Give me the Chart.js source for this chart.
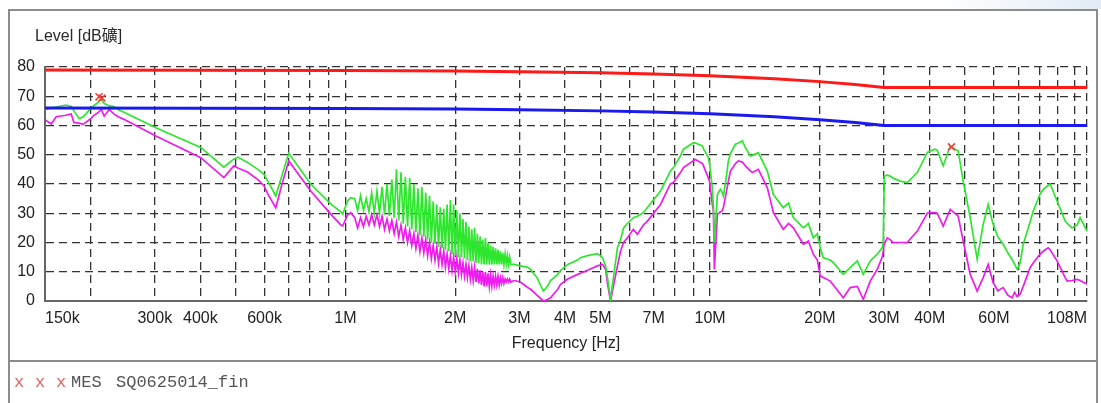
<!DOCTYPE html>
<html>
<head>
<meta charset="utf-8">
<script src="https://cdn.jsdelivr.net/npm/chart.js@4.4.0/dist/chart.umd.min.js"></script>
<style>
  html, body { margin: 0; padding: 0; background: #fff; }
  #wrap { width: 1101px; height: 403px; }
</style>
</head>
<body>
<div id="wrap"><canvas id="emiChart" width="1101" height="403"></canvas></div>
<script>
// frequencies in MHz, levels in dB
const lowFreq = [0.150, 0.156, 0.161, 0.171, 0.177, 0.180, 0.186, 0.191, 0.201, 0.203, 0.210, 0.214, 0.218, 0.225, 0.232, 0.238, 0.247, 0.302, 0.401, 0.464, 0.494, 0.507, 0.540, 0.575, 0.597, 0.616, 0.644, 0.670, 0.699, 0.803, 0.911, 0.971, 0.983, 1.014, 1.034];
const lowPeak = [65.5, 66.0, 66.3, 67.0, 66.5, 65.0, 62.3, 63.0, 66.0, 66.5, 68.0, 69.0, 67.5, 66.7, 66.5, 65.5, 64.5, 59.2, 52.5, 45.8, 48.5, 49.2, 47.3, 45.0, 43.4, 40.5, 35.9, 43.0, 50.5, 40.0, 33.2, 30.5, 29.7, 34.3, 35.3];
const lowAvg = [62.0, 60.5, 63.0, 63.5, 63.9, 61.0, 60.8, 60.4, 62.5, 63.2, 64.5, 65.5, 63.2, 65.5, 63.9, 63.0, 62.1, 56.4, 49.0, 42.2, 46.2, 45.5, 44.0, 41.5, 39.5, 36.0, 31.9, 40.0, 47.9, 37.6, 29.7, 26.0, 25.7, 29.5, 30.2];

// harmonic comb between 1.06 and 2.84 MHz (spike top, then floor)
const combFreq = [1.06, 1.08, 1.10, 1.12, 1.14, 1.16, 1.18, 1.20, 1.22, 1.24, 1.26, 1.28, 1.30, 1.32, 1.34, 1.36, 1.38, 1.40, 1.42, 1.44, 1.46, 1.48, 1.50, 1.52, 1.54, 1.56, 1.58, 1.60, 1.62, 1.64, 1.66, 1.68, 1.70, 1.72, 1.74, 1.76, 1.78, 1.80, 1.82, 1.84, 1.86, 1.88, 1.90, 1.92, 1.94, 1.96, 1.98, 2.00, 2.02, 2.04, 2.06, 2.08, 2.10, 2.12, 2.14, 2.16, 2.18, 2.20, 2.22, 2.24, 2.26, 2.28, 2.30, 2.32, 2.34, 2.36, 2.38, 2.40, 2.42, 2.44, 2.46, 2.48, 2.50, 2.52, 2.54, 2.56, 2.58, 2.60, 2.62, 2.64, 2.66, 2.68, 2.70, 2.72, 2.74, 2.76, 2.78, 2.80, 2.82, 2.84];
const combPeak = [35.0, 31.0, 36.0, 31.0, 35.0, 30.5, 37.0, 30.0, 37.5, 30.0, 39.0, 29.5, 40.0, 29.0, 41.5, 28.5, 45.0, 27.5, 44.0, 26.5, 42.5, 25.5, 42.0, 24.5, 40.0, 23.5, 38.5, 22.5, 39.0, 22.0, 37.0, 21.0, 36.0, 20.0, 34.0, 19.5, 33.0, 18.5, 32.0, 18.0, 31.5, 17.5, 33.0, 17.0, 34.5, 16.0, 33.0, 15.5, 31.0, 15.0, 30.0, 15.0, 28.0, 14.5, 27.0, 14.0, 25.5, 13.5, 24.5, 13.5, 25.0, 13.0, 23.0, 13.0, 22.0, 12.5, 21.0, 12.5, 21.5, 12.5, 20.0, 12.5, 19.0, 12.5, 18.5, 12.5, 18.0, 12.5, 17.5, 12.5, 17.0, 12.5, 16.5, 12.5, 16.0, 12.5, 15.5, 12.5, 15.0, 12.5];
const combAvg = [28.5, 25.0, 28.5, 25.5, 29.0, 26.0, 29.5, 26.0, 29.5, 25.5, 29.0, 24.5, 28.0, 24.0, 27.5, 23.0, 27.0, 22.0, 26.0, 21.0, 25.0, 20.0, 24.0, 19.0, 23.0, 18.0, 22.5, 17.0, 21.5, 16.5, 21.0, 15.5, 20.0, 14.5, 19.0, 14.0, 18.5, 13.0, 17.5, 12.5, 17.0, 11.5, 16.0, 11.0, 15.5, 10.5, 15.0, 10.0, 14.5, 9.5, 14.0, 9.0, 13.0, 8.5, 12.5, 8.0, 12.0, 7.5, 11.5, 7.0, 11.5, 6.5, 11.0, 6.0, 10.5, 5.5, 10.0, 5.0, 10.0, 5.0, 9.5, 5.0, 9.0, 5.0, 8.5, 5.5, 8.5, 5.5, 8.5, 5.5, 8.0, 6.0, 8.0, 6.0, 7.5, 6.5, 7.5, 6.5, 7.5, 6.5];

const highFreq = [2.90, 3.02, 3.16, 3.22, 3.35, 3.49, 3.58, 3.65, 3.82, 3.89, 4.07, 4.33, 4.41, 4.61, 4.91, 5.07, 5.17, 5.23, 5.33, 5.43, 5.57, 5.68, 5.79, 5.93, 6.16, 6.32, 6.56, 6.73, 7.31, 7.78, 7.93, 8.29, 8.45, 9.00, 9.11, 9.53, 9.59, 9.89, 9.96, 10.14, 10.21, 10.27, 10.47, 10.67, 10.80, 10.87, 11.01, 11.22, 11.37, 11.73, 11.95, 12.26, 12.49, 12.89, 13.06, 13.56, 14.35, 14.91, 15.87, 16.40, 16.91, 18.02, 18.60, 19.18, 19.68, 20.05, 20.44, 21.36, 21.77, 23.18, 24.22, 25.32, 26.30, 27.48, 28.72, 29.64, 29.83, 30.02, 30.60, 31.19, 31.77, 33.21, 34.71, 36.99, 39.39, 39.64, 41.42, 41.95, 43.56, 45.53, 47.88, 49.42, 51.66, 53.99, 56.07, 57.87, 59.70, 61.50, 63.60, 65.50, 67.30, 68.40, 69.50, 70.80, 72.20, 75.40, 76.90, 80.30, 81.90, 84.50, 85.60, 89.40, 94.10, 95.30, 98.30, 101.5, 103.4, 108.0];
const highPeak = [12.5, 12.0, 11.5, 10.8, 8.0, 3.4, 5.0, 7.0, 9.1, 10.5, 12.5, 14.0, 14.8, 15.5, 16.2, 14.8, 12.0, 8.0, 0.6, 8.0, 18.2, 21.0, 25.0, 26.5, 28.5, 29.0, 30.2, 32.0, 37.6, 44.4, 45.6, 49.6, 51.9, 54.1, 54.0, 53.0, 52.0, 49.0, 47.0, 38.7, 32.0, 20.0, 36.4, 38.2, 37.0, 35.9, 40.0, 47.9, 50.5, 53.6, 54.0, 54.7, 52.4, 49.6, 49.8, 50.7, 44.4, 36.4, 31.9, 33.5, 28.5, 25.0, 26.5, 21.6, 23.0, 18.0, 14.8, 14.0, 13.1, 9.1, 11.4, 13.7, 9.1, 13.7, 16.0, 18.2, 20.0, 42.7, 43.0, 42.7, 42.0, 41.0, 40.5, 43.9, 50.7, 51.0, 51.9, 51.5, 46.2, 53.0, 51.3, 41.0, 28.5, 14.2, 26.2, 33.0, 26.2, 22.0, 19.4, 16.5, 14.2, 12.5, 10.8, 13.0, 19.4, 27.0, 30.8, 36.5, 38.2, 39.5, 40.0, 34.2, 27.3, 26.5, 25.0, 26.0, 28.5, 23.9];
const highAvg = [7.0, 6.5, 4.6, 4.0, 2.0, 0.0, 0.5, 1.1, 4.0, 5.7, 7.5, 9.1, 9.5, 10.5, 12.0, 12.5, 10.8, 6.0, 0.0, 5.0, 12.0, 17.0, 20.0, 21.6, 24.5, 22.8, 26.0, 27.3, 33.0, 40.0, 40.5, 43.9, 45.6, 48.0, 48.4, 47.0, 46.2, 42.0, 41.0, 33.0, 30.8, 10.8, 29.6, 30.5, 30.8, 32.0, 35.4, 41.0, 44.4, 47.0, 47.9, 47.5, 46.2, 44.5, 43.9, 45.0, 38.7, 30.2, 24.5, 26.5, 25.0, 19.4, 20.5, 16.0, 14.0, 8.5, 8.0, 6.8, 5.5, 1.1, 4.6, 5.0, 0.6, 6.8, 10.8, 15.0, 17.0, 19.5, 21.6, 21.0, 20.0, 20.0, 20.0, 23.9, 30.0, 30.2, 30.2, 30.0, 25.6, 31.3, 29.0, 20.5, 9.1, 3.4, 8.0, 12.5, 6.3, 3.5, 4.6, 2.0, 1.1, 3.0, 1.5, 2.3, 5.0, 11.4, 13.0, 16.0, 17.0, 18.2, 17.5, 13.7, 8.0, 6.8, 7.0, 7.4, 7.0, 5.7];

const limitFreq = [0.15, 1, 2, 3, 5, 7, 10, 15, 20, 25, 30, 108];
const qpLimit = [79.0, 78.8, 78.6, 78.4, 78.0, 77.6, 77.0, 76.0, 75.0, 74.0, 73.0, 73.0];
const avLimit = [66.0, 65.8, 65.6, 65.4, 65.0, 64.6, 64.0, 63.0, 62.0, 61.0, 60.0, 60.0];

const markerFreq = [0.211, 0.215, 45.9];
const markerDb = [69.8, 69.4, 52.7];

const gridFreq = [0.15, 0.2, 0.3, 0.4, 0.5, 0.6, 0.7, 0.8, 0.9, 1, 2, 3, 4, 5, 6, 7, 8, 9, 10, 20, 30, 40, 50, 60, 70, 80, 90, 100, 108];
const labelFreq = [0.15, 0.3, 0.4, 0.6, 1, 2, 3, 4, 5, 7, 10, 20, 30, 40, 60, 108];
const labelText = ["150k", "300k", "400k", "600k", "1M", "2M", "3M", "4M", "5M", "7M", "10M", "20M", "30M", "40M", "60M", "108M"];

const scanFreq = lowFreq.concat(combFreq, highFreq);
const peakDb = lowPeak.concat(combPeak, highPeak);
const avgDb = lowAvg.concat(combAvg, highAvg);

function toPoints(xs, ys) {
  return xs.map((x, i) => ({ x: x, y: ys[i] }));
}

const sansFont = "'Liberation Sans', Arial, 'Noto Sans CJK SC', sans-serif";
const monoFont = "'Liberation Mono', 'Courier New', monospace";

// frame, header text and the measurement legend drawn on the canvas
const framePlugin = {
  id: "frame",
  beforeDraw(chart) {
    const c = chart.ctx;
    c.save();
    const g = c.createLinearGradient(940, 0, 1101, 0);
    g.addColorStop(0, "rgba(226,236,246,0)");
    g.addColorStop(1, "rgba(226,236,246,1)");
    c.fillStyle = g;
    c.fillRect(940, 0, 161, 9);
    c.strokeStyle = "#8c8c8c";
    c.lineWidth = 2;
    c.strokeRect(9, 10, 1088, 430);
    c.beginPath();
    c.moveTo(9, 361);
    c.lineTo(1097, 361);
    c.stroke();
    c.restore();
  },
  afterDraw(chart) {
    const c = chart.ctx;
    c.save();
    c.textBaseline = "middle";
    c.fillStyle = "#2a2a2a";
    c.font = "16px " + sansFont;
    c.fillText("Level [dB礦]", 35, 37);
    c.font = "17px " + monoFont;
    c.fillStyle = "#e46060";
    c.fillText("x", 14, 382);
    c.fillText("x", 35, 382);
    c.fillText("x", 56, 382);
    c.fillStyle = "#555";
    c.fillText("MES", 71, 382);
    c.fillText("SQ0625014_fin", 116, 382);
    c.restore();
  }
};

const ctx = document.getElementById("emiChart").getContext("2d");
const emiChart = new Chart(ctx, {
  type: "line",
  data: {
    datasets: [
      {
        label: "MES",
        data: toPoints(markerFreq, markerDb),
        showLine: false,
        pointStyle: "crossRot",
        pointRadius: 5,
        borderColor: "#f04040",
        pointBorderWidth: 1.6,
      },
      {
        label: "QP limit",
        data: toPoints(limitFreq, qpLimit),
        borderColor: "#ff1a1a",
        borderWidth: 3,
        pointRadius: 0,
      },
      {
        label: "AV limit",
        data: toPoints(limitFreq, avLimit),
        borderColor: "#1a1aee",
        borderWidth: 3,
        pointRadius: 0,
      },
      {
        label: "Peak",
        data: toPoints(scanFreq, peakDb),
        borderColor: "#2ee62e",
        borderWidth: 1.7,
        pointRadius: 0,
      },
      {
        label: "Average",
        data: toPoints(scanFreq, avgDb),
        borderColor: "#ee1cee",
        borderWidth: 1.7,
        pointRadius: 0,
      },
    ],
  },
  options: {
    responsive: false,
    animation: false,
    layout: { padding: { left: 0, right: 14, top: 67, bottom: 42 } },
    plugins: {
      legend: { display: false },
      tooltip: { enabled: false },
    },
    scales: {
      x: {
        type: "logarithmic",
        min: 0.15,
        max: 108,
        afterBuildTicks: (scale) => {
          scale.ticks = gridFreq.map((v) => ({ value: v }));
        },
        afterFit: (scale) => {
          scale.height = 60;
        },
        ticks: {
          autoSkip: false,
          maxRotation: 0,
          align: "inner",
          padding: 8,
          color: "#222",
          font: { family: sansFont, size: 16 },
          callback: function (value) {
            const i = labelFreq.indexOf(value);
            return i < 0 ? "" : labelText[i];
          },
        },
        grid: {
          drawTicks: false,
          lineWidth: 1.3,
          color: (c) => (c.tick && c.tick.value === 0.15 ? "rgba(0,0,0,0)" : "#333"),
        },
        border: { color: "#666", width: 2, dash: [8, 5] },
        title: {
          display: true,
          text: "Frequency [Hz]",
          color: "#222",
          font: { family: sansFont, size: 16 },
          padding: { top: 0, bottom: 8 },
        },
      },
      y: {
        min: 0,
        max: 80,
        afterFit: (scale) => {
          scale.width = 45;
        },
        ticks: {
          stepSize: 10,
          padding: 10,
          color: "#222",
          font: { family: sansFont, size: 16 },
        },
        grid: {
          drawTicks: false,
          lineWidth: 1.3,
          color: (c) => (c.tick && c.tick.value === 0 ? "rgba(0,0,0,0)" : "#333"),
        },
        border: { color: "#666", width: 2, dash: [8, 5] },
      },
    },
  },
  plugins: [framePlugin],
});
</script>
</body>
</html>
